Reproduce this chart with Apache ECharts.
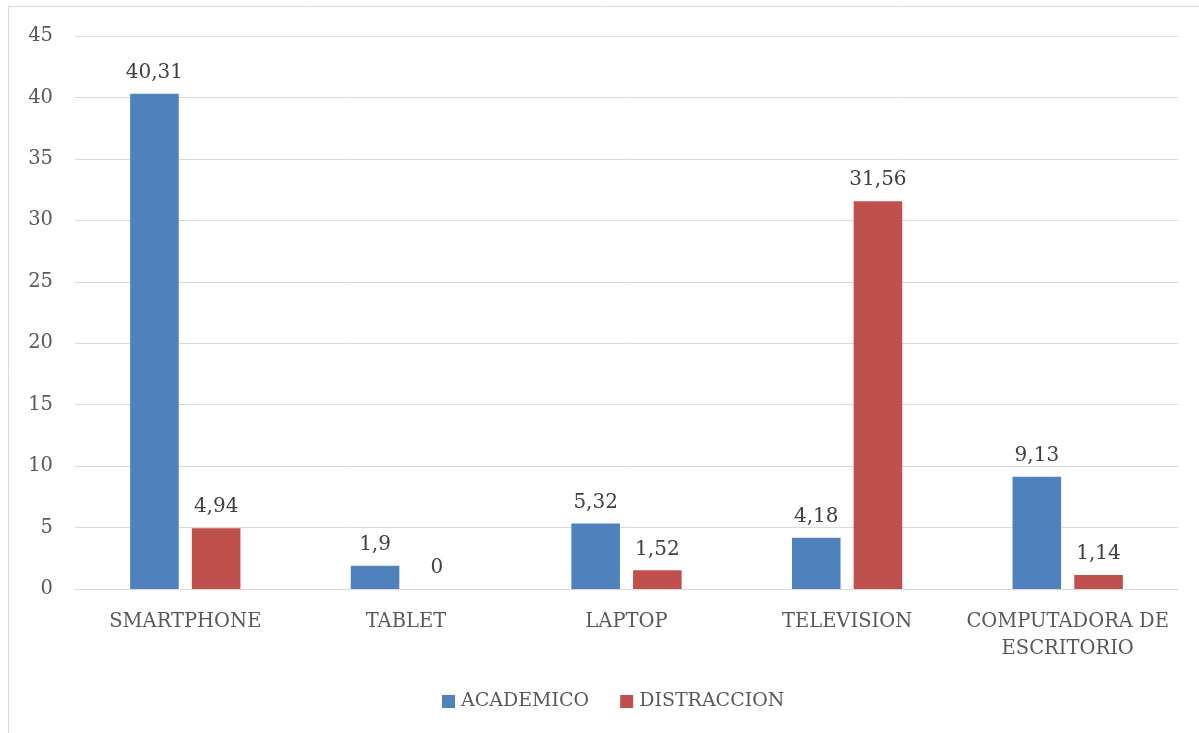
<!DOCTYPE html>
<html>
<head>
<meta charset="utf-8">
<script src="https://cdn.jsdelivr.net/npm/echarts@6/dist/echarts.min.js"></script>
<style>
  html, body { margin: 0; padding: 0; background: #fff; }
  #main { width: 1199px; height: 733px; }
</style>
</head>
<body>
<div id="main"></div>
<script>
// categories and values
const categories = ['SMARTPHONE', 'TABLET', 'LAPTOP', 'TELEVISION', 'COMPUTADORA DE\nESCRITORIO'];
const academico = [40.31, 1.9, 5.32, 4.18, 9.13];
const distraccion = [4.94, 0, 1.52, 31.56, 1.14];
const seriesNames = ['ACADEMICO', 'DISTRACCION'];

const FONT = 'DejaVu Serif';
const TEXT = '#595959';

const chart = echarts.init(document.getElementById('main'));

// comma as decimal separator
const fmt = p => String(p.value).replace('.', ',');

const option = {
  animation: false,
  textStyle: { fontFamily: FONT, color: TEXT },
  graphic: [
    {
      type: 'polyline',
      shape: { points: [[8.5, 740], [8.5, 6.5], [1199, 6.5]] },
      style: { stroke: '#d9d9d9', lineWidth: 1, fill: null }
    }
  ],
  grid: { left: 75, right: 21, top: 36, bottom: 144 },
  legend: {
    bottom: 17,
    left: 437,
    itemWidth: 13,
    itemHeight: 13,
    itemGap: 31,
    icon: 'rect',
    textStyle: { fontFamily: FONT, fontSize: 19, color: TEXT, padding: [0, 0, 0, 1] }
  },
  xAxis: {
    type: 'category',
    data: categories,
    axisLine: { lineStyle: { color: '#d9d9d9' } },
    axisTick: { show: false },
    axisLabel: { fontFamily: FONT, fontSize: 19.5, color: TEXT, margin: 19, lineHeight: 27, interval: 0 }
  },
  yAxis: {
    type: 'value',
    min: 0,
    max: 45,
    interval: 5,
    axisLine: { show: false },
    axisTick: { show: false },
    splitLine: { lineStyle: { color: '#d9d9d9' } },
    axisLabel: { fontFamily: FONT, fontSize: 19.5, color: TEXT, margin: 22 }
  },
  series: [
    {
      name: seriesNames[0],
      type: 'bar',
      data: academico,
      barGap: '27%',
      barCategoryGap: '50%',
      itemStyle: { color: '#4f81bd' },
      label: { show: true, position: 'top', distance: 11, fontFamily: FONT, fontSize: 20, color: '#404040', formatter: fmt }
    },
    {
      name: seriesNames[1],
      type: 'bar',
      data: distraccion,
      itemStyle: { color: '#c0504d' },
      label: { show: true, position: 'top', distance: 11, fontFamily: FONT, fontSize: 20, color: '#404040', formatter: fmt }
    }
  ]
};

chart.setOption(option);
</script>
</body>
</html>
